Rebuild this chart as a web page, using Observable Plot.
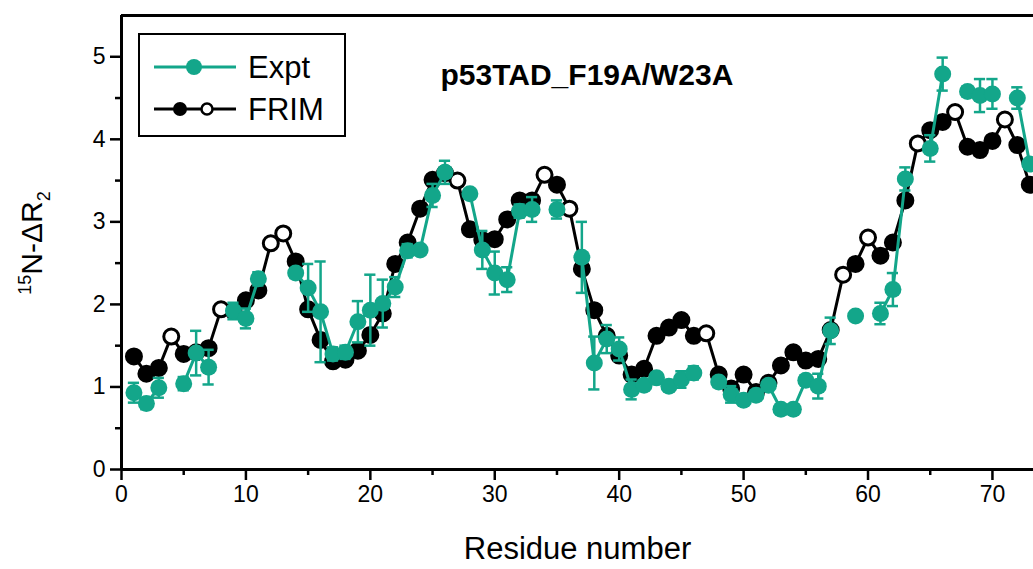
<!DOCTYPE html>
<html><head><meta charset="utf-8">
<script src="https://cdn.jsdelivr.net/npm/d3@7"></script>
<script src="https://cdn.jsdelivr.net/npm/@observablehq/plot@0.6"></script>
<style>
body{margin:0;background:#fff;}
#wrap{position:relative;width:1033px;height:569px;overflow:hidden;font-family:"Liberation Sans",Arial,sans-serif;}
#legend{position:absolute;left:0;top:0;}
</style></head><body><div id="wrap"></div>
<script>
const residues = d3.range(1, 74);
const expt = [0.93,0.80,0.99,null,1.04,1.41,1.24,null,1.92,1.83,
              2.31,null,null,2.38,2.20,1.91,1.40,1.42,1.79,1.93,
              2.01,2.21,2.65,2.66,3.32,3.60,null,3.34,2.66,2.38,
              2.30,3.13,3.15,null,3.15,null,2.57,1.29,1.58,1.46,
              0.97,1.02,1.11,1.01,1.09,1.17,null,1.06,0.91,0.84,
              0.90,1.02,0.73,0.73,1.08,1.01,1.68,null,1.86,null,
              1.89,2.18,3.52,null,3.89,4.79,null,4.58,4.53,4.55,
              null,4.50,3.70];
const exptErr = [0.12,0.07,0.12,null,0.08,0.27,0.21,null,0.10,0.12,
                 0.08,null,null,0.06,0.29,0.61,0.08,0.08,0.25,0.43,
                 0.29,0.12,0.08,0.05,0.14,0.14,null,0.05,0.23,0.26,
                 0.15,0.08,0.15,null,0.11,null,0.43,0.32,0.17,0.14,
                 0.12,0.05,0.05,0.05,0.10,0.08,null,0.06,0.10,0.05,
                 0.05,0.04,0.04,0.04,0.06,0.15,0.16,null,0.04,null,
                 0.13,0.20,0.14,null,0.16,0.20,null,0.06,0.20,0.18,
                 null,0.13,0.05];
const frim = [1.37,1.16,1.23,1.61,1.40,1.42,1.47,1.94,1.92,2.05,
              2.17,2.74,2.86,2.52,1.94,1.57,1.31,1.33,1.44,1.63,
              1.89,2.49,2.75,3.16,3.51,3.59,3.50,2.91,2.78,2.79,
              3.03,3.26,3.26,3.57,3.45,3.16,2.43,1.93,1.62,1.38,
              1.15,1.22,1.62,1.72,1.81,1.62,1.65,1.15,0.98,1.15,
              0.94,1.05,1.26,1.42,1.32,1.34,1.69,2.36,2.49,2.81,
              2.59,2.75,3.26,3.95,4.11,4.21,4.33,3.91,3.87,3.98,
              4.24,3.93,3.45];
const xTicks = [0,10,20,30,40,50,60,70];
const xMinor = [5,15,25,35,45,55,65];
const yTicks = [0,1,2,3,4,5];
const yMinor = [0.5,1.5,2.5,3.5,4.5];
const seriesNames = ["Expt","FRIM"];
const title = "p53TAD_F19A/W23A";
const TEAL = "#13a68a";

const rows = residues.map((r, i) => ({
  r, expt: expt[i] == null ? NaN : expt[i], err: exptErr[i], frim: frim[i], missing: expt[i] == null
}));
const ex = rows.filter(d => !d.missing);

const chart = Plot.plot({
  width: 1033, height: 569,
  marginLeft: 121, marginTop: 15, marginBottom: 100, marginRight: 0,
  x: {domain: [0, 73.3]},
  y: {domain: [0, 5.5]},
  style: {fontFamily: "'Liberation Sans', Arial, sans-serif", fontSize: "23px", color: "#000", background: "#fff"},
  marks: [
    Plot.axisX({ticks: xTicks, tickSize: 11, tickPadding: 5, tickFormat: d => d, label: null, strokeWidth: 2.5, fontSize: 23}),
    Plot.axisX({ticks: xMinor, tickSize: 6, text: null, label: null, strokeWidth: 2.5}),
    Plot.axisY({ticks: yTicks, tickSize: 11, tickPadding: 5, tickFormat: d => d, label: null, strokeWidth: 2.5, fontSize: 23}),
    Plot.axisY({ticks: yMinor, tickSize: 6, text: null, label: null, strokeWidth: 2.5}),
    Plot.ruleY([0], {strokeWidth: 3}),
    Plot.ruleY([5.5], {strokeWidth: 3}),
    Plot.ruleX([0], {strokeWidth: 3}),
    Plot.line(rows, {x: "r", y: "frim", stroke: "#000", strokeWidth: 3}),
    Plot.dot(rows.filter(d => !d.missing), {x: "r", y: "frim", r: 8, fill: "#000", stroke: "#000", strokeWidth: 2}),
    Plot.dot(rows.filter(d => d.missing), {x: "r", y: "frim", r: 7.5, fill: "#fff", stroke: "#000", strokeWidth: 3}),
    Plot.line(rows, {x: "r", y: "expt", stroke: TEAL, strokeWidth: 3}),
    Plot.ruleX(ex, {x: "r", y1: d => d.expt - d.err, y2: d => d.expt + d.err, stroke: TEAL, strokeWidth: 2.5}),
    Plot.ruleY(ex, {y: d => d.expt - d.err, x1: d => d.r - 0.45, x2: d => d.r + 0.45, stroke: TEAL, strokeWidth: 2.5}),
    Plot.ruleY(ex, {y: d => d.expt + d.err, x1: d => d.r - 0.45, x2: d => d.r + 0.45, stroke: TEAL, strokeWidth: 2.5}),
    Plot.dot(ex, {x: "r", y: "expt", r: 8.5, fill: TEAL}),
    Plot.text([title], {frameAnchor: "top-left", dx: 319, dy: 60, lineAnchor: "middle", textAnchor: "start", fontWeight: "bold", fontSize: 30}),
    Plot.text(["Residue number"], {frameAnchor: "bottom", dy: 80, lineAnchor: "middle", fontSize: 31})
  ]
});
document.getElementById("wrap").appendChild(chart);

// y-axis label with super/subscripts
const svg = d3.select(chart);
const yl = svg.append("text")
  .attr("transform", "translate(42,243) rotate(-90)")
  .attr("text-anchor", "middle")
  .attr("font-family", "'Liberation Sans', Arial, sans-serif")
  .attr("font-size", 30)
  .attr("fill", "#000");
yl.append("tspan").attr("font-size", 18).attr("dy", -11).text("15");
yl.append("tspan").attr("dy", 11).text("N-\u0394R");
yl.append("tspan").attr("font-size", 18).attr("dy", 8).text("2");

// legend overlay
const lg = d3.select("#wrap").append("svg").attr("id", "legend").attr("width", 1033).attr("height", 569);
lg.append("rect").attr("x", 139).attr("y", 34).attr("width", 206).attr("height", 102)
  .attr("fill", "#fff").attr("stroke", "#000").attr("stroke-width", 2);
const rowsY = [67, 109];
lg.append("line").attr("x1", 154).attr("x2", 236).attr("y1", rowsY[0]).attr("y2", rowsY[0]).attr("stroke", TEAL).attr("stroke-width", 3);
lg.append("circle").attr("cx", 194).attr("cy", rowsY[0]).attr("r", 8).attr("fill", TEAL);
lg.append("line").attr("x1", 154).attr("x2", 236).attr("y1", rowsY[1]).attr("y2", rowsY[1]).attr("stroke", "#000").attr("stroke-width", 3);
lg.append("circle").attr("cx", 180).attr("cy", rowsY[1]).attr("r", 7).attr("fill", "#000");
lg.append("circle").attr("cx", 207).attr("cy", rowsY[1]).attr("r", 5.5).attr("fill", "#fff").attr("stroke", "#000").attr("stroke-width", 2.5);
seriesNames.forEach((n, i) => {
  lg.append("text").attr("x", 248).attr("y", rowsY[i]).attr("dy", "0.36em")
    .attr("font-family", "'Liberation Sans', Arial, sans-serif").attr("font-size", 31).text(n);
});
</script>
</body></html>
